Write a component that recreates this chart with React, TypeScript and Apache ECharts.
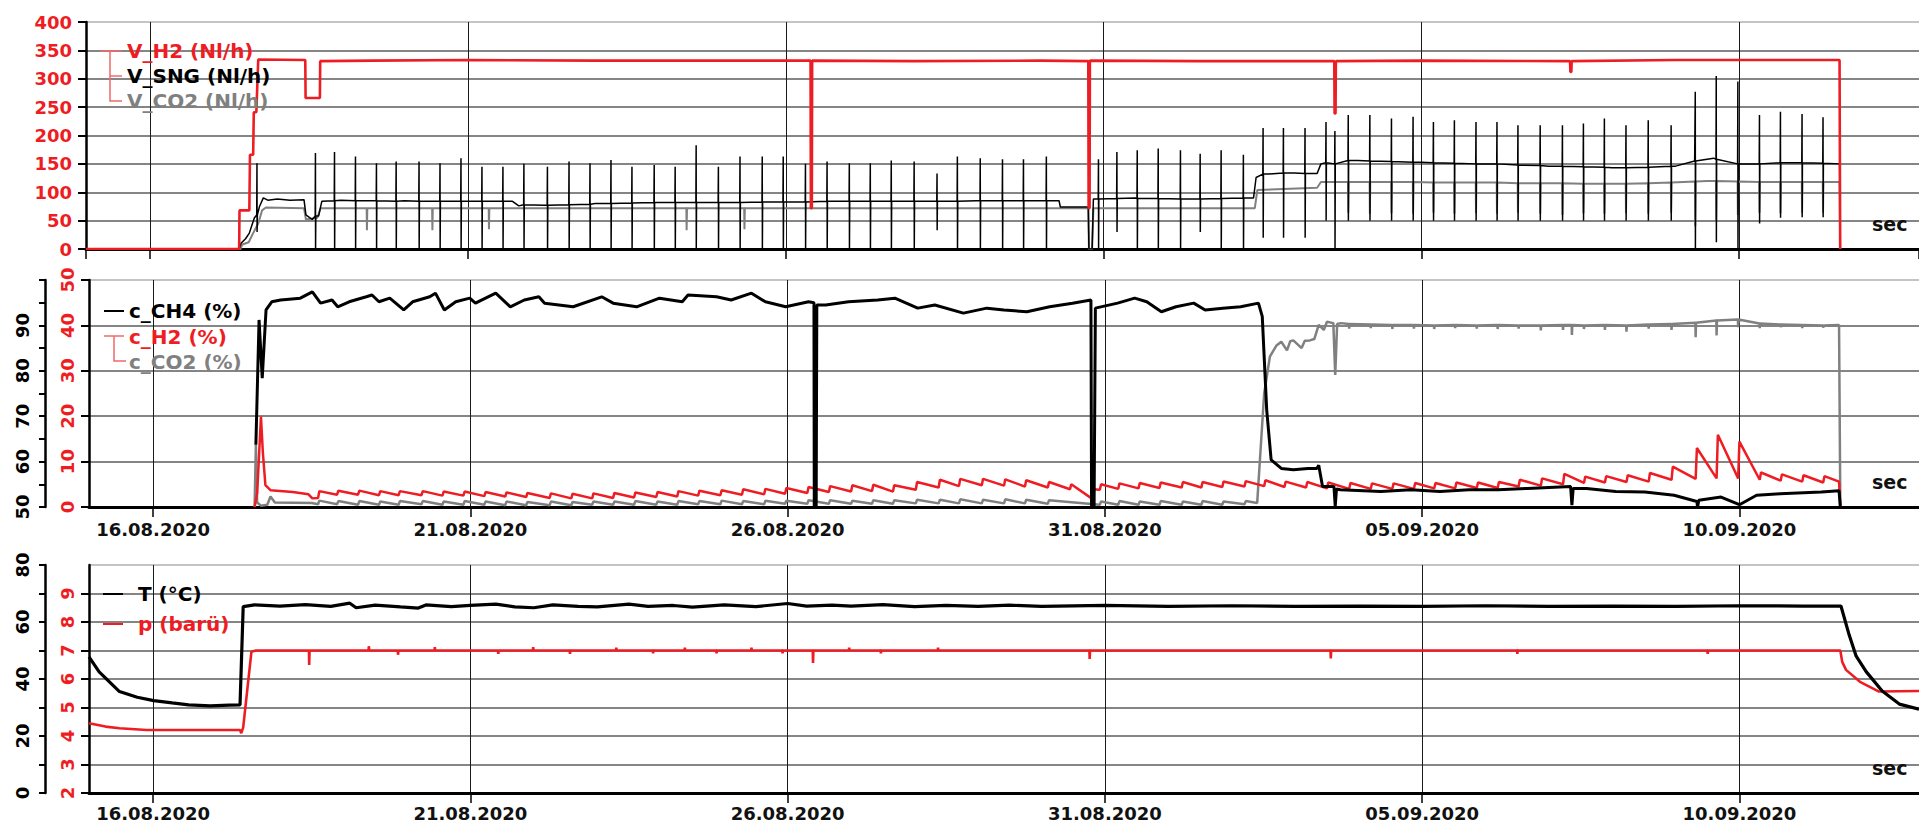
import React, { useEffect, useRef } from 'react';
import * as echarts from 'echarts';

type P = [number, number];

const FONT = '"DejaVu Sans", Verdana, sans-serif';
const RED = '#ee1d23';
const GRAY = '#808080';
const BLACK = '#000000';
const BRACKET = '#f06a6a';

// x = days relative to 16.08.2020 00:00
const X_MIN = -1.01;
const X_MAX = 27.83;

// ---------- top panel: flows (Nl/h) ----------
const vH2: P[] = [
  [-1.01, 0], [1.40, 0], [1.405, 68], [1.56, 68], [1.57, 166], [1.62, 166], [1.63, 241], [1.67, 241], [1.70, 334],
  [2.44, 333], [2.445, 266], [2.67, 266], [2.675, 331], [3.5, 332], [5.0, 333], [7.0, 332], [9.0, 332],
  [10.39, 332], [10.395, 72], [10.41, 72], [10.415, 332], [12.0, 331], [14.0, 332], [14.76, 331], [14.765, 72],
  [14.78, 72], [14.785, 332], [16.5, 331], [18.63, 331], [18.635, 239], [18.65, 239], [18.655, 331], [20.0, 332],
  [22.34, 331], [22.345, 312], [22.36, 312], [22.365, 331], [24.0, 333], [26.58, 333], [26.59, 0],
];
const vSngBase: P[] = [
  [-1.01, 0], [1.40, 0], [1.43, 10], [1.50, 18], [1.56, 28], [1.60, 42], [1.64, 55], [1.72, 75], [1.78, 90],
  [1.85, 86], [2.0, 88], [2.2, 86], [2.42, 87], [2.45, 60], [2.55, 52], [2.65, 58], [2.70, 84], [3.0, 86],
  [4.0, 85], [5.0, 84], [5.7, 84], [5.8, 76], [6.2, 77], [7.0, 80], [8.0, 82], [9.0, 82], [10.0, 83], [11.0, 84],
  [12.0, 84], [13.0, 85], [14.30, 85], [14.32, 74], [14.76, 74], [14.77, 0], [14.82, 0], [14.84, 88], [15.5, 90],
  [16.5, 88], [17.36, 90], [17.40, 126], [17.6, 132], [18.0, 134], [18.36, 133], [18.42, 150], [19.0, 156],
  [20.0, 153], [21.0, 150], [22.0, 146], [23.0, 143], [24.0, 146], [24.3, 155], [24.6, 160], [25.0, 150],
  [26.0, 152], [26.58, 150], [26.59, 0],
];
// [day, base, top, bottom]
const vSngSpikes: number[][] = [
  [1.68, 60, 151, 30], [2.60, 58, 169, 0], [2.90, 85, 171, 0], [3.23, 85, 163, 0], [3.56, 85, 151, 0],
  [3.87, 84, 154, 0], [4.23, 84, 154, 0], [4.56, 84, 151, 0], [4.89, 84, 160, 0], [5.22, 84, 145, 0],
  [5.55, 84, 145, 0], [5.88, 78, 150, 0], [6.25, 77, 145, 0], [6.59, 78, 154, 0], [6.92, 79, 151, 0],
  [7.25, 80, 157, 0], [7.58, 81, 145, 0], [7.93, 82, 148, 0], [8.26, 82, 145, 0], [8.59, 82, 183, 0],
  [8.94, 82, 145, 0], [9.28, 82, 163, 0], [9.63, 83, 163, 0], [9.96, 83, 163, 0], [10.31, 83, 150, 0],
  [10.65, 84, 154, 0], [11.00, 84, 151, 0], [11.33, 84, 151, 0], [11.66, 84, 156, 0], [12.02, 84, 154, 0],
  [12.38, 84, 133, 33], [12.70, 84, 163, 0], [13.06, 85, 160, 0], [13.41, 85, 158, 0], [13.74, 85, 158, 0],
  [14.10, 85, 163, 0], [14.92, 88, 158, 0], [15.21, 89, 171, 30], [15.53, 89, 174, 0], [15.86, 89, 177, 0],
  [16.21, 88, 174, 0], [16.52, 88, 168, 30], [16.85, 89, 174, 0], [17.20, 90, 166, 0], [17.51, 132, 213, 20],
  [17.83, 134, 213, 20], [18.17, 133, 213, 20], [18.50, 152, 224, 50], [18.64, 150, 208, 0], [18.85, 156, 236, 50],
  [19.19, 155, 236, 50], [19.53, 154, 230, 50], [19.87, 153, 233, 50], [20.19, 152, 224, 50], [20.52, 151, 227, 50],
  [20.86, 150, 224, 50], [21.19, 150, 224, 50], [21.52, 148, 218, 50], [21.87, 147, 218, 50], [22.22, 146, 218, 50],
  [22.55, 145, 221, 50], [22.88, 144, 230, 50], [23.22, 143, 218, 50], [23.57, 144, 227, 50], [23.93, 146, 218, 50],
  [24.31, 155, 277, 0], [24.64, 158, 305, 12], [24.98, 150, 295, 0], [25.32, 150, 236, 45], [25.65, 152, 242, 55],
  [25.99, 152, 238, 56], [26.32, 151, 232, 56],
];
const vCo2Base: P[] = [
  [-1.01, 0], [1.42, 0], [1.45, 8], [1.55, 12], [1.62, 28], [1.70, 45], [1.76, 68], [1.82, 73], [2.42, 72],
  [2.45, 52], [2.63, 55], [2.68, 72], [6.0, 72], [10.0, 72], [14.76, 72], [14.77, 0], [14.82, 0], [14.84, 72],
  [17.38, 72], [17.42, 104], [18.36, 108], [18.42, 118], [21.0, 117], [23.0, 115], [24.5, 120], [26.58, 118],
  [26.59, 0],
];
// [day, base, bottom]
const vCo2Dips: number[][] = [
  [3.41, 72, 33], [4.44, 72, 33], [5.33, 72, 35], [8.44, 72, 33], [9.35, 72, 35],
  [18.85, 118, 64], [19.19, 118, 62], [19.53, 118, 63], [19.87, 118, 62], [20.19, 117, 64], [20.52, 117, 62],
  [20.86, 117, 63], [21.19, 117, 62], [21.52, 116, 64], [21.87, 116, 62], [22.22, 116, 60], [22.55, 115, 63],
  [22.88, 115, 62], [23.22, 115, 63], [23.57, 116, 62], [23.93, 117, 64], [24.31, 119, 40], [24.64, 120, 50],
  [24.98, 119, 60], [25.32, 118, 64], [25.65, 118, 63], [25.99, 118, 64], [26.32, 118, 64],
];

// ---------- middle panel: concentrations (%) ----------
const cCh4: P[] = [
  [1.62, 63.7], [1.67, 91.2], [1.72, 78.4], [1.78, 93.4], [1.87, 95.2], [2.01, 95.6], [2.32, 96.0], [2.51, 97.4],
  [2.64, 94.9], [2.82, 95.6], [2.91, 94.1], [3.09, 95.2], [3.36, 96.3], [3.45, 96.7], [3.56, 95.2], [3.73, 96.0],
  [3.95, 93.4], [4.09, 95.2], [4.36, 96.3], [4.45, 97.1], [4.59, 93.4], [4.77, 95.2], [4.99, 96.0], [5.08, 94.9],
  [5.40, 97.1], [5.63, 94.1], [5.85, 95.6], [6.08, 96.3], [6.17, 94.9], [6.62, 94.1], [7.07, 96.3], [7.25, 94.9],
  [7.62, 94.1], [7.98, 96.0], [8.34, 95.2], [8.43, 96.7], [8.88, 96.3], [9.11, 95.6], [9.43, 97.1], [9.65, 95.2],
  [9.97, 94.1], [10.33, 95.2], [10.415, 95.0], [10.42, 50.2], [10.45, 50.2], [10.46, 94.5], [10.60, 94.5],
  [10.96, 95.2], [11.42, 95.6], [11.69, 96.0], [12.05, 93.8], [12.32, 94.5], [12.77, 92.7], [13.14, 93.8],
  [13.41, 93.4], [13.77, 93.0], [14.13, 94.1], [14.49, 94.9], [14.78, 95.6], [14.79, 50.2], [14.83, 50.2],
  [14.85, 93.8], [15.20, 94.9], [15.47, 96.0], [15.66, 95.2], [15.89, 93.0], [16.12, 94.1], [16.40, 94.9],
  [16.58, 93.4], [16.86, 93.8], [17.14, 94.1], [17.42, 94.9], [17.48, 92.0], [17.55, 71.4], [17.62, 60.4],
  [17.78, 58.5], [17.97, 58.2], [18.20, 58.5], [18.34, 58.5], [18.37, 59.2], [18.43, 54.5], [18.61, 54.5],
  [18.63, 50.2], [18.65, 54.0], [18.71, 53.8], [19.35, 53.4], [19.82, 53.8], [20.28, 53.4], [20.74, 53.8],
  [21.20, 53.8], [21.66, 54.1], [22.34, 54.5], [22.36, 50.4], [22.38, 54.1], [22.59, 54.1], [23.05, 53.4],
  [23.51, 53.3], [23.97, 52.6], [24.33, 51.2], [24.34, 50.0], [24.36, 51.5], [24.71, 52.2], [25.0, 50.5],
  [25.27, 52.6], [25.64, 52.9], [26.29, 53.3], [26.57, 53.6], [26.59, 50.0],
];
const cH2Start: P[] = [
  [1.60, 0], [1.64, 3], [1.70, 19.9], [1.73, 12], [1.77, 4.8], [1.85, 3.7], [2.2, 3.3], [2.45, 2.8], [2.51, 1.9],
];
// [day, low, high]
const cH2Teeth: number[][] = [
  [2.60, 2.0, 3.5], [2.90, 2.7, 3.6], [3.23, 2.7, 3.6], [3.56, 2.6, 3.5], [3.87, 2.6, 3.5], [4.23, 2.6, 3.5],
  [4.56, 2.5, 3.4], [4.89, 2.5, 3.4], [5.22, 2.4, 3.3], [5.55, 2.3, 3.2], [5.88, 2.2, 3.1], [6.25, 2.0, 3.0],
  [6.59, 1.9, 2.9], [6.92, 1.9, 3.0], [7.25, 2.0, 3.1], [7.58, 2.1, 3.2], [7.93, 2.2, 3.3], [8.26, 2.3, 3.5],
  [8.59, 2.5, 3.6], [8.94, 2.6, 3.7], [9.28, 2.7, 3.9], [9.63, 2.8, 4.0], [9.96, 2.9, 4.2], [10.31, 3.1, 4.4],
  [10.65, 3.3, 4.6], [11.00, 3.4, 4.8], [11.33, 3.5, 4.9], [11.66, 3.4, 4.8], [12.02, 3.8, 5.5], [12.38, 4.3, 6.0],
  [12.70, 4.6, 6.2], [13.06, 4.8, 6.2], [13.41, 4.7, 6.1], [13.74, 4.5, 5.9], [14.10, 4.3, 5.5], [14.45, 3.9, 5.0],
  [14.79, 1.9, 3.9], [14.92, 3.8, 5.0], [15.21, 4.0, 5.2], [15.53, 4.1, 5.3], [15.86, 4.2, 5.4], [16.21, 4.3, 5.5],
  [16.52, 4.3, 5.5], [16.85, 4.4, 5.6], [17.20, 4.5, 5.7], [17.51, 4.6, 5.9], [17.83, 4.4, 5.6], [18.17, 4.3, 5.5],
  [18.50, 4.1, 5.4], [18.85, 4.0, 5.3], [19.19, 4.0, 5.2], [19.53, 4.0, 5.2], [19.87, 4.0, 5.3], [20.19, 4.1, 5.3],
  [20.52, 4.1, 5.4], [20.86, 4.2, 5.4], [21.19, 4.2, 5.5], [21.52, 4.5, 6.0], [21.87, 4.7, 6.3], [22.22, 5.0, 7.3],
  [22.55, 5.3, 6.7], [22.88, 5.4, 6.8], [23.22, 5.5, 7.0], [23.57, 5.6, 7.5], [23.93, 6.0, 8.9], [24.31, 6.2, 13.0],
  [24.64, 6.3, 15.9], [24.98, 6.3, 14.4], [25.32, 6.0, 7.6], [25.65, 5.8, 7.2], [25.99, 5.6, 7.0], [26.32, 5.4, 6.8],
];
const cH2End: P[] = [[26.57, 5.6], [26.59, 0]];

const cCo2Start: P[] = [
  [1.60, 0], [1.62, 13.7], [1.64, 1.0], [1.70, 0.3], [1.80, 0.5], [1.85, 2.3], [1.92, 1.0], [2.5, 0.9],
];
const cCo2LowTeeth: number[][] = [
  [2.60, 0.6, 1.4], [2.90, 0.6, 1.3], [3.23, 0.5, 1.3], [3.56, 0.5, 1.2], [3.87, 0.5, 1.3], [4.23, 0.6, 1.3],
  [4.56, 0.5, 1.2], [4.89, 0.5, 1.3], [5.22, 0.5, 1.2], [5.55, 0.4, 1.2], [5.88, 0.4, 1.1], [6.25, 0.4, 1.2],
  [6.59, 0.4, 1.1], [6.92, 0.5, 1.2], [7.25, 0.5, 1.2], [7.58, 0.5, 1.3], [7.93, 0.5, 1.2], [8.26, 0.5, 1.3],
  [8.59, 0.6, 1.3], [8.94, 0.6, 1.4], [9.28, 0.6, 1.3], [9.63, 0.6, 1.4], [9.96, 0.7, 1.4], [10.31, 0.7, 1.5],
  [10.65, 0.7, 1.5], [11.00, 0.7, 1.4], [11.33, 0.7, 1.5], [11.66, 0.7, 1.5], [12.02, 0.8, 1.6], [12.38, 0.8, 1.6],
  [12.70, 0.8, 1.7], [13.06, 0.8, 1.6], [13.41, 0.8, 1.7], [13.74, 0.8, 1.6], [14.10, 0.7, 1.5], [14.92, 0.5, 1.2],
  [15.21, 0.5, 1.3], [15.53, 0.5, 1.2], [15.86, 0.5, 1.3], [16.21, 0.5, 1.2], [16.52, 0.5, 1.3], [16.85, 0.5, 1.2],
  [17.20, 0.6, 1.3],
];
const cCo2Rise: P[] = [
  [17.40, 0.9], [17.51, 25.0], [17.60, 33.1], [17.70, 35.5], [17.78, 36.4], [17.87, 34.5], [17.92, 36.5],
  [17.97, 36.7], [18.10, 35.0], [18.15, 36.6], [18.23, 36.7], [18.30, 37.0], [18.37, 40.1], [18.45, 39.0],
  [18.50, 40.8], [18.60, 40.5], [18.63, 29.1], [18.66, 40.3], [18.72, 40.5], [26.57, 40.1], [26.59, 0],
];
const cCo2Dips: number[][] = [
  [18.85, 40.3, 39.3], [19.19, 40.2, 39.4], [19.53, 40.1, 39.2], [19.87, 40.1, 39.3], [20.19, 40.0, 39.2],
  [20.52, 40.1, 39.4], [20.86, 40.0, 39.3], [21.19, 40.1, 39.2], [21.52, 40.0, 39.3], [21.87, 40.0, 38.9],
  [22.22, 40.1, 39.0], [22.36, 40.1, 37.9], [22.55, 40.0, 39.2], [22.88, 40.1, 39.0], [23.22, 40.0, 38.6],
  [23.57, 40.2, 39.3], [23.93, 40.3, 39.0], [24.31, 40.6, 37.4], [24.64, 41.1, 37.8], [24.98, 41.3, 39.6],
  [25.32, 40.4, 39.4], [25.65, 40.2, 39.6], [25.99, 40.1, 39.4], [26.32, 40.0, 39.5],
];

// ---------- bottom panel: temperature (°C) and pressure (barü) ----------
const tempT: P[] = [
  [-1.01, 47.8], [-0.85, 42.5], [-0.53, 35.6], [-0.25, 33.6], [0.01, 32.4], [0.3, 31.6], [0.56, 30.9], [0.9, 30.6],
  [1.2, 30.8], [1.37, 30.9], [1.42, 65.4], [1.6, 66.0], [2.0, 65.6], [2.4, 66.1], [2.8, 65.5], [3.1, 66.6],
  [3.2, 65.0], [3.5, 65.9], [3.9, 65.3], [4.18, 64.9], [4.3, 66.0], [4.7, 65.4], [5.0, 65.8], [5.4, 66.3],
  [5.7, 65.3], [6.0, 65.0], [6.3, 66.0], [6.7, 65.5], [7.0, 65.3], [7.5, 66.3], [7.8, 65.5], [8.2, 65.8],
  [8.5, 65.2], [9.0, 66.0], [9.5, 65.4], [10.0, 66.5], [10.3, 65.6], [10.7, 65.9], [11.0, 65.6], [11.5, 66.1],
  [12.0, 65.4], [12.5, 65.8], [13.0, 65.5], [13.5, 65.9], [14.0, 65.5], [15.0, 65.8], [16.0, 65.5], [17.0, 65.7],
  [18.0, 65.5], [19.0, 65.6], [20.0, 65.5], [21.0, 65.7], [22.0, 65.5], [23.0, 65.6], [24.0, 65.5], [25.0, 65.7],
  [26.0, 65.6], [26.6, 65.6], [26.73, 55.4], [26.84, 48.0], [27.0, 42.5], [27.25, 35.8], [27.52, 31.2], [27.83, 29.4],
];
const pBase: P[] = [
  [-1.01, 4.45], [-0.75, 4.33], [-0.53, 4.27], [-0.1, 4.21], [1.37, 4.21], [1.39, 4.1], [1.42, 4.3], [1.55, 6.96],
  [1.62, 7.0], [26.59, 7.0], [26.62, 6.6], [26.68, 6.32], [26.9, 5.9], [27.2, 5.56], [27.83, 5.58],
];
const pTicks: number[][] = [
  [2.46, 7.0, 6.49], [3.40, 7.0, 7.15], [3.86, 7.0, 6.85], [4.44, 7.0, 7.12], [5.44, 7.0, 6.88], [5.99, 7.0, 7.12],
  [6.57, 7.0, 6.88], [7.30, 7.0, 7.1], [7.88, 7.0, 6.9], [8.38, 7.0, 7.1], [8.88, 7.0, 6.9], [9.43, 7.0, 7.1],
  [9.92, 7.0, 6.9], [10.40, 7.0, 6.56], [10.97, 7.0, 7.1], [11.47, 7.0, 6.9], [12.37, 7.0, 7.1], [14.76, 7.0, 6.7],
  [18.56, 7.0, 6.72], [21.5, 7.0, 6.88], [24.5, 7.0, 6.88],
];

// ---------- builders ----------
function mergeSpikes(base: P[], spikes: number[][]): P[] {
  const pts: P[] = base.map((p) => [p[0], p[1]] as P);
  for (const [d, b, t, bot] of spikes) {
    pts.push([d - 0.004, b], [d, t], [d + 0.002, bot], [d + 0.006, b]);
  }
  return pts.sort((a, b) => a[0] - b[0]);
}
function mergeDips(base: P[], dips: number[][]): P[] {
  const pts: P[] = base.map((p) => [p[0], p[1]] as P);
  for (const [d, b, bot] of dips) {
    pts.push([d - 0.004, b], [d, bot], [d + 0.006, b]);
  }
  return pts.sort((a, b) => a[0] - b[0]);
}
function teethLine(start: P[], teeth: number[][], end: P[]): P[] {
  const pts: P[] = start.map((p) => [p[0], p[1]] as P);
  for (const [d, lo, hi] of teeth) pts.push([d, lo], [d + 0.02, hi]);
  for (const p of end) pts.push([p[0], p[1]]);
  return pts.sort((a, b) => a[0] - b[0]);
}

const pad = (n: number) => (n < 10 ? '0' + n : '' + n);
const fmtDate = (v: number) => {
  const d = new Date(2020, 7, 16 + Math.round(v));
  return `${pad(d.getDate())}.${pad(d.getMonth() + 1)}.${d.getFullYear()}`;
};

const LINE_ICON = 'path://M0,0 H20 V2 H0 Z';

function xAxisFor(gridIndex: number, showLabels: boolean, labelMargin: number) {
  return {
    type: 'value',
    gridIndex,
    min: X_MIN,
    max: X_MAX,
    minInterval: 5,
    maxInterval: 5,
    axisLine: { show: true, onZero: false, lineStyle: { color: BLACK, width: 3 } },
    axisTick: { show: true, length: 10, lineStyle: { color: BLACK, width: 1.5 } },
    axisLabel: {
      show: showLabels,
      formatter: fmtDate,
      color: '#111',
      fontSize: 18,
      fontWeight: 'bold',
      fontFamily: FONT,
      margin: labelMargin,
      showMinLabel: false,
      showMaxLabel: false,
    },
    splitLine: { show: true, showMinLine: false, showMaxLine: false, lineStyle: { color: '#1a1a1a', width: 1 } },
    name: 'sec',
    nameLocation: 'end',
    nameGap: -47,
    nameTextStyle: {
      color: '#111',
      fontSize: 19,
      fontWeight: 'bold',
      fontFamily: FONT,
      verticalAlign: 'bottom',
      padding: [0, 0, 16, 0],
    },
  };
}

function splitColors(n: number): string[] {
  const arr: string[] = [BLACK];
  for (let i = 1; i < n - 1; i++) arr.push('#5c5c5c');
  arr.push('#b0b0b0');
  return arr;
}

const axisLabelBase = { fontSize: 18, fontWeight: 'bold', fontFamily: FONT };
const LEGEND_TEXT = { fontSize: 20, fontWeight: 'bold', fontFamily: FONT, lineHeight: 20 };

export default function App() {
  const ref = useRef<HTMLDivElement>(null);
  useEffect(() => {
    if (!ref.current) return;
    const chart = echarts.init(ref.current, null, { renderer: 'svg' });

    const topSng = mergeSpikes(vSngBase, vSngSpikes);
    const topCo2 = mergeDips(vCo2Base, vCo2Dips);
    const midH2 = teethLine(cH2Start, cH2Teeth, cH2End);
    const midCo2 = mergeDips(teethLine(cCo2Start, cCo2LowTeeth, cCo2Rise), cCo2Dips);
    const botP = mergeDips(pBase, pTicks);

    const lineSeries = (name: string, xi: number, yi: number, data: P[], color: string, width: number) => ({
      name,
      type: 'line',
      xAxisIndex: xi,
      yAxisIndex: yi,
      data,
      color,
      showSymbol: false,
      symbol: 'none',
      lineStyle: { color, width },
      emphasis: { disabled: true },
      silent: true,
    });

    const yLine = { show: true, onZero: false, lineStyle: { color: BLACK, width: 2.5 } };

    const option: any = {
      animation: false,
      textStyle: { fontFamily: FONT },
      grid: [
        { left: 86, right: 0, top: 22, height: 227 },
        { left: 89, right: 0, top: 280, height: 227 },
        { left: 89, right: 0, top: 565, height: 228 },
      ],
      xAxis: [xAxisFor(0, false, 12), xAxisFor(1, true, 13), xAxisFor(2, true, 11)],
      yAxis: [
        {
          type: 'value', gridIndex: 0, min: 0, max: 400, interval: 50, position: 'left',
          axisLine: yLine,
          axisTick: { show: true, length: 8, lineStyle: { color: BLACK, width: 2 } },
          axisLabel: { ...axisLabelBase, color: RED, margin: 14 },
          splitLine: { show: true, lineStyle: { color: splitColors(9), width: 1.5 } },
        },
        {
          type: 'value', gridIndex: 1, min: 0, max: 50, interval: 10, position: 'left', offset: 0,
          axisLine: yLine,
          axisTick: { show: true, length: 8, lineStyle: { color: BLACK, width: 2 } },
          axisLabel: { ...axisLabelBase, color: RED, rotate: 90, margin: 13 },
          splitLine: { show: true, lineStyle: { color: splitColors(6), width: 1.5 } },
        },
        {
          type: 'value', gridIndex: 1, min: 50, max: 100, interval: 10, position: 'left', offset: 44,
          axisLine: yLine,
          axisTick: { show: true, length: 6, lineStyle: { color: BLACK, width: 2 } },
          minorTick: { show: true, splitNumber: 2, length: 6, lineStyle: { color: BLACK, width: 2 } },
          axisLabel: { ...axisLabelBase, color: BLACK, rotate: 90, margin: 14, showMaxLabel: false },
          splitLine: { show: false },
        },
        {
          type: 'value', gridIndex: 2, min: 2, max: 10, interval: 1, position: 'left', offset: 0,
          axisLine: yLine,
          axisTick: { show: true, length: 8, lineStyle: { color: BLACK, width: 2 } },
          axisLabel: { ...axisLabelBase, color: RED, rotate: 90, margin: 13, showMaxLabel: false },
          splitLine: { show: true, lineStyle: { color: splitColors(9), width: 1.5 } },
        },
        {
          type: 'value', gridIndex: 2, min: 0, max: 80, interval: 20, position: 'left', offset: 44,
          axisLine: yLine,
          axisTick: { show: true, length: 6, lineStyle: { color: BLACK, width: 2 } },
          minorTick: { show: true, splitNumber: 2, length: 6, lineStyle: { color: BLACK, width: 2 } },
          axisLabel: { ...axisLabelBase, color: BLACK, rotate: 90, margin: 14 },
          splitLine: { show: false },
        },
      ],
      legend: [
        {
          left: 100, top: 41, orient: 'vertical', itemWidth: 22, itemHeight: 14, itemGap: 5, padding: 0,
          selectedMode: false,
          textStyle: LEGEND_TEXT,
          data: [
            { name: 'V_H2 (Nl/h)', icon: 'none', textStyle: { color: RED } },
            { name: 'V_SNG (Nl/h)', icon: 'none', textStyle: { color: BLACK } },
            { name: 'V_CO2 (Nl/h)', icon: 'none', textStyle: { color: GRAY } },
          ],
        },
        {
          left: 104, top: 301, orient: 'vertical', itemWidth: 20, itemHeight: 14, itemGap: 5.5, padding: 0,
          selectedMode: false,
          textStyle: LEGEND_TEXT,
          data: [
            { name: 'c_CH4 (%)', icon: LINE_ICON, itemStyle: { color: BLACK }, textStyle: { color: BLACK } },
            { name: 'c_H2 (%)', icon: 'none', textStyle: { color: RED } },
            { name: 'c_CO2 (%)', icon: 'none', textStyle: { color: GRAY } },
          ],
        },
        {
          left: 103, top: 584, orient: 'vertical', itemWidth: 20, itemHeight: 14, itemGap: 10, padding: 0,
          selectedMode: false,
          textStyle: { ...LEGEND_TEXT, padding: [0, 0, 0, 10] },
          data: [
            { name: 'T (°C)', icon: LINE_ICON, itemStyle: { color: BLACK }, textStyle: { color: BLACK } },
            { name: 'p (barü)', icon: LINE_ICON, itemStyle: { color: RED }, textStyle: { color: RED } },
          ],
        },
      ],
      graphic: [
        { type: 'polyline', silent: true, z: 10, shape: { points: [[100, 51], [122, 51]] }, style: { stroke: BRACKET, lineWidth: 1.5, fill: null } },
        { type: 'polyline', silent: true, z: 10, shape: { points: [[110, 51], [110, 101], [122, 101]] }, style: { stroke: BRACKET, lineWidth: 1.5, fill: null } },
        { type: 'polyline', silent: true, z: 10, shape: { points: [[110, 76], [122, 76]] }, style: { stroke: BRACKET, lineWidth: 1.5, fill: null } },
        { type: 'polyline', silent: true, z: 10, shape: { points: [[104, 336], [124, 336]] }, style: { stroke: BRACKET, lineWidth: 1.5, fill: null } },
        { type: 'polyline', silent: true, z: 10, shape: { points: [[114, 336], [114, 361], [126, 361]] }, style: { stroke: BRACKET, lineWidth: 1.5, fill: null } },
      ],
      series: [
        lineSeries('V_CO2 (Nl/h)', 0, 0, topCo2, GRAY, 2),
        lineSeries('V_SNG (Nl/h)', 0, 0, topSng, BLACK, 1.5),
        lineSeries('V_H2 (Nl/h)', 0, 0, vH2, RED, 2.6),
        lineSeries('c_CO2 (%)', 1, 1, midCo2, GRAY, 2.5),
        lineSeries('c_H2 (%)', 1, 1, midH2, RED, 2.5),
        lineSeries('c_CH4 (%)', 1, 2, cCh4, BLACK, 3),
        lineSeries('p (barü)', 2, 3, botP, RED, 2.6),
        lineSeries('T (°C)', 2, 4, tempT, BLACK, 3.2),
      ],
    };
    chart.setOption(option);
    return () => chart.dispose();
  }, []);

  return (
    <div
      ref={ref}
      style={{ position: 'fixed', left: 0, top: 0, width: 1919, height: 830, background: '#fff' }}
    />
  );
}
